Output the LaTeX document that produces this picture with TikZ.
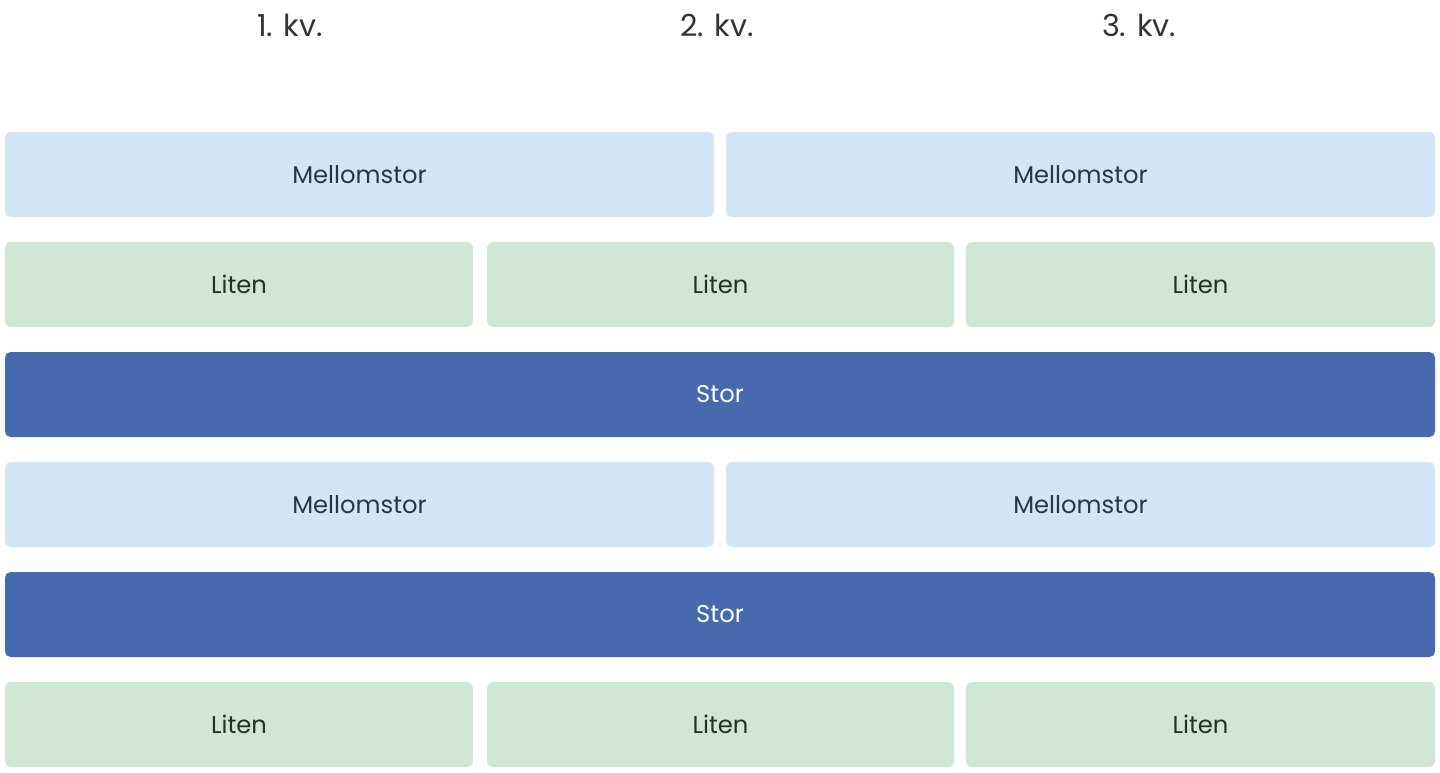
\documentclass[tikz,border=0pt]{standalone}
\usepackage{fontspec}
\setmainfont{Poppins}
\definecolor{lblue}{HTML}{D3E6F6}
\definecolor{lgreen}{HTML}{D0E7D5}
\definecolor{dblue}{HTML}{4769AE}
\definecolor{txtblue}{HTML}{253845}
\definecolor{txtgreen}{HTML}{1E3526}
\definecolor{hdr}{HTML}{333333}
\tikzset{
  boxbase/.style={rounded corners=5.5pt*0.75, inner sep=0pt, anchor=north west},
  mbox/.style={boxbase, fill=lblue, text=txtblue},
  lbox/.style={boxbase, fill=lgreen, text=txtgreen},
  sbox/.style={boxbase, fill=dblue, text=white},
  hdrtext/.style={text=hdr, font=\fontsize{22.7}{27}\selectfont},
  boxtext/.style={font=\fontsize{18.2}{22}\selectfont}
}
\begin{document}
\begin{tikzpicture}[x=0.75pt,y=-0.75pt]
\useasboundingbox (0,0) rectangle (1440,772);
% headers
\node[hdrtext] (h1) at (290,25) {1. kv.};
\node[hdrtext] (h2) at (717,25) {2. kv.};
\node[hdrtext] (h3) at (1139,25) {3. kv.};
% row 1
\fill[mbox] (5,132) rectangle (714,217);
\fill[mbox] (726,132) rectangle (1435,217);
\node[boxtext,text=txtblue] (m1) at (359.5,174.5) {Mellomstor};
\node[boxtext,text=txtblue] (m2) at (1080.5,174.5) {Mellomstor};
% row 2
\fill[lbox] (5,242) rectangle (473,327);
\fill[lbox] (487,242) rectangle (954,327);
\fill[lbox] (966,242) rectangle (1435,327);
\node[boxtext,text=txtgreen] (l1) at (239,284.5) {Liten};
\node[boxtext,text=txtgreen] (l2) at (720.5,284.5) {Liten};
\node[boxtext,text=txtgreen] (l3) at (1200.5,284.5) {Liten};
% row 3
\fill[sbox] (5,352) rectangle (1435,437);
\node[boxtext,text=white] (s1) at (720,394.5) {Stor};
% row 4
\fill[mbox] (5,462) rectangle (714,547);
\fill[mbox] (726,462) rectangle (1435,547);
\node[boxtext,text=txtblue] (m3) at (359.5,504.5) {Mellomstor};
\node[boxtext,text=txtblue] (m4) at (1080.5,504.5) {Mellomstor};
% row 5
\fill[sbox] (5,572) rectangle (1435,657);
\node[boxtext,text=white] (s2) at (720,614.5) {Stor};
% row 6
\fill[lbox] (5,682) rectangle (473,767);
\fill[lbox] (487,682) rectangle (954,767);
\fill[lbox] (966,682) rectangle (1435,767);
\node[boxtext,text=txtgreen] (l4) at (239,724.5) {Liten};
\node[boxtext,text=txtgreen] (l5) at (720.5,724.5) {Liten};
\node[boxtext,text=txtgreen] (l6) at (1200.5,724.5) {Liten};
\end{tikzpicture}
\end{document}
